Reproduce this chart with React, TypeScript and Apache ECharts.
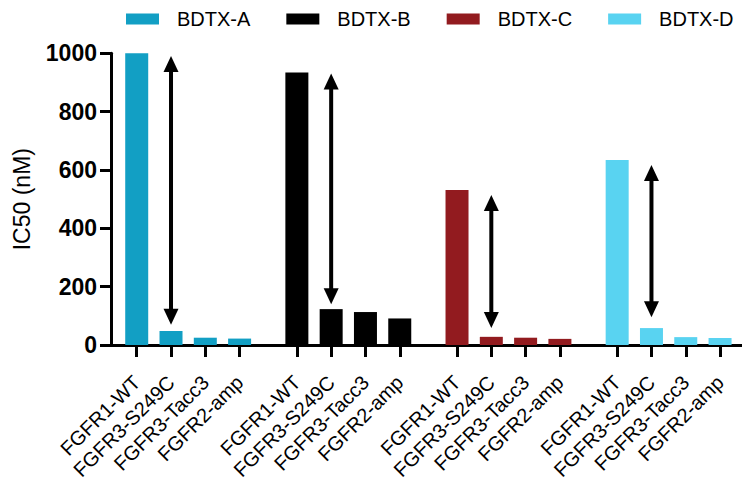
import React, { useEffect, useRef } from "react";
import * as echarts from "echarts";

const compounds = ["BDTX-A", "BDTX-B", "BDTX-C", "BDTX-D"];
const cellLines = ["FGFR1-WT", "FGFR3-S249C", "FGFR3-Tacc3", "FGFR2-amp"];
const valuesA = [1000, 48, 25, 22];
const valuesB = [934, 123, 113, 91];
const valuesC = [531, 28, 25, 21];
const valuesD = [634, 58, 27, 24];
const arrowTop = [991, 931, 514, 617];
const arrowBottom = [69, 140, 58, 95];
const yTicks = [0, 200, 400, 600, 800, 1000];
const colors = ["#129fc4", "#000000", "#921b1f", "#59d3f1"];

const GROUP_STEP = 4.67;
const pos = (g: number, i: number) => g * GROUP_STEP + i;

export default function App() {
  const ref = useRef<HTMLDivElement>(null);
  useEffect(() => {
    if (!ref.current) return;
    const chart = echarts.init(ref.current, undefined, { renderer: "svg" });
    const allValues = [valuesA, valuesB, valuesC, valuesD];
    const tickPositions: number[] = [];
    const tickNames: string[] = [];
    compounds.forEach((_, g) => {
      cellLines.forEach((c, i) => {
        tickPositions.push(pos(g, i));
        tickNames.push(c);
      });
    });
    const font = "'Liberation Sans', Arial, sans-serif";
    const barSeries = compounds.map((name, g) => ({
      name,
      type: "bar",
      barWidth: 23,
      barGap: "-100%",
      itemStyle: { color: colors[g] },
      data: allValues[g].map((v, i) => [pos(g, i), v]),
    }));
    const arrowData = compounds.map((_, g) => [pos(g, 1), arrowTop[g], arrowBottom[g]]);
    const arrowSeries = {
      type: "custom",
      name: "arrows",
      encode: { x: 0, y: [1, 2] },
      data: arrowData,
      z: 5,
      renderItem: (params: any, api: any) => {
        const p1 = api.coord([api.value(0), api.value(1)]);
        const p2 = api.coord([api.value(0), api.value(2)]);
        const hw = 7.5;
        const hh = 16;
        const x = p1[0];
        return {
          type: "group",
          children: [
            {
              type: "line",
              shape: { x1: x, y1: p1[1] + hh - 1, x2: x, y2: p2[1] - hh + 1 },
              style: { stroke: "#000", lineWidth: 4 },
            },
            {
              type: "polygon",
              shape: { points: [[x, p1[1]], [x - hw, p1[1] + hh], [x + hw, p1[1] + hh]] },
              style: { fill: "#000" },
            },
            {
              type: "polygon",
              shape: { points: [[x, p2[1]], [x - hw, p2[1] - hh], [x + hw, p2[1] - hh]] },
              style: { fill: "#000" },
            },
          ],
        };
      },
    };
    chart.setOption({
      animation: false,
      textStyle: { fontFamily: font },
      legend: {
        data: compounds,
        left: 126,
        top: 9,
        width: 700,
        padding: 0,
        icon: "rect",
        itemWidth: 33,
        itemHeight: 11,
        itemGap: 36,
        textStyle: { fontSize: 20, color: "#000", fontFamily: font, padding: [0, 0, 0, 13] },
      },
      grid: {
        left: 111,
        right: 0,
        top: 53.3,
        bottom: 136,
        containLabel: false,
        outerBoundsMode: "none",
      },
      xAxis: {
        type: "value",
        min: -0.75,
        max: 17.65,
        splitLine: { show: false },
        axisLine: { show: true, onZero: true, lineStyle: { color: "#000", width: 3 } },
        axisTick: { show: true, customValues: tickPositions, length: 12, lineStyle: { color: "#000", width: 3 } },
        axisLabel: {
          customValues: tickPositions,
          rotate: 45,
          margin: 34,
          fontSize: 20,
          color: "#000",
          fontFamily: font,
          formatter: (v: number) => {
            let best = 0;
            tickPositions.forEach((p, k) => {
              if (Math.abs(p - v) < Math.abs(tickPositions[best] - v)) best = k;
            });
            return tickNames[best];
          },
        },
      },
      yAxis: {
        type: "value",
        min: 0,
        max: 1000,
        interval: 200,
        name: "IC50 (nM)",
        nameLocation: "middle",
        nameGap: 78,
        nameTextStyle: { fontSize: 23, color: "#000", fontFamily: font },
        splitLine: { show: false },
        axisLine: { show: true, onZero: false, lineStyle: { color: "#000", width: 3 } },
        axisTick: { show: true, length: 11, lineStyle: { color: "#000", width: 3 } },
        axisLabel: {
          fontSize: 23,
          fontWeight: "bold",
          color: "#000",
          margin: 14,
          fontFamily: font,
          formatter: (v: number) => (yTicks.includes(v) ? String(v) : ""),
        },
      },
      series: [...barSeries, arrowSeries],
    });
    return () => chart.dispose();
  }, []);
  return (
    <div
      ref={ref}
      style={{ position: "fixed", left: 0, top: 0, width: 742, height: 481, background: "#fff" }}
    />
  );
}
